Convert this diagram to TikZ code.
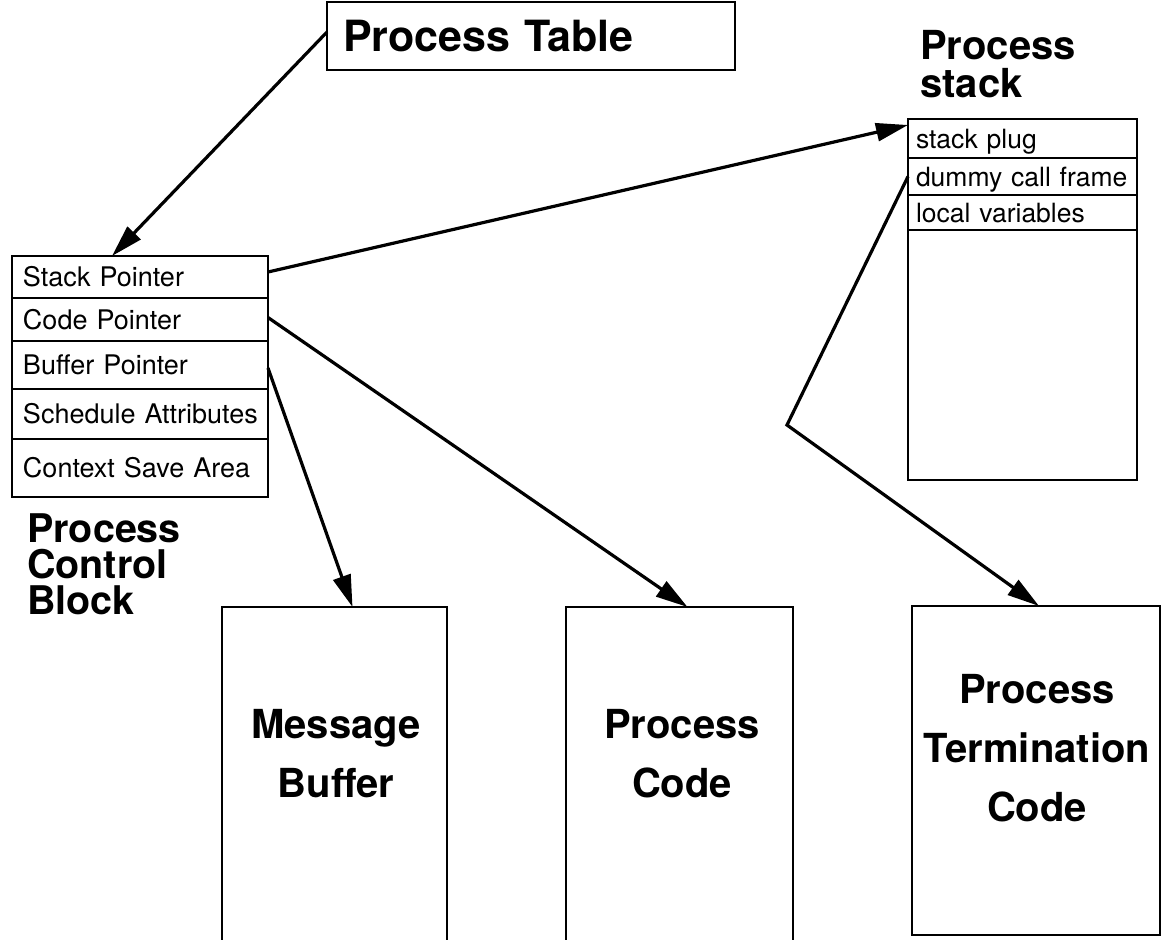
\documentclass[tikz,border=0pt]{standalone}
\usepackage{fontspec}
\setmainfont{TeX Gyre Heros}
\usetikzlibrary{arrows.meta}
\begin{document}
\begin{tikzpicture}[x=1pt,y=-1pt,
  box/.style={draw, line width=2.6pt, rectangle, inner sep=0pt, outer sep=0pt},
  pcbrow/.style={box, anchor=north west, minimum width=256pt, text width=234pt, align=left,
     font=\fontsize{27}{30}\selectfont, text height=19pt, text depth=0pt},
  stkrow/.style={box, anchor=north west, minimum width=229pt, text width=213pt, align=left,
     font=\fontsize{26.5}{30}\selectfont, text height=19pt, text depth=0pt},
  bigtxt/.style={font=\fontsize{40}{59}\selectfont\bfseries, align=center, inner sep=0pt},
  title/.style={font=\fontsize{40}{38}\selectfont\bfseries, align=left, inner sep=0pt, anchor=north west},
  arr/.style={line width=3.2pt, -{Triangle[length=32pt,width=18pt]}}
]
\useasboundingbox[fill=white] (0,0) rectangle (1163,940);

% Process Table
\node[box, anchor=north west, minimum width=408pt, minimum height=68pt, text width=376pt,
      align=left, font=\fontsize{43}{46}\selectfont\bfseries] (pt) at (327,2) {Process Table};

% Process Control Block
\node[pcbrow, minimum height=42pt] (r1) at (12,256) {\mbox{Stack Pointer}};
\node[pcbrow, minimum height=43pt] (r2) at (r1.south west) {\mbox{Code Pointer}};
\node[pcbrow, minimum height=48pt] (r3) at (r2.south west) {\mbox{Buffer Pointer}};
\node[pcbrow, minimum height=50pt] (r4) at (r3.south west) {\mbox{Schedule Attributes}};
\node[pcbrow, minimum height=58pt] (r5) at (r4.south west) {\mbox{Context Save Area}};
\node[title, font=\fontsize{39.5}{36}\selectfont\bfseries] (pcbl) at (27,513) {Process\\Control\\Block};

% Process stack
\node[title] (psl) at (920,30) {Process\\stack};
\node[stkrow, minimum height=39pt] (s1) at (908,119) {\mbox{stack plug}};
\node[stkrow, minimum height=37pt] (s2) at (s1.south west) {\mbox{dummy call frame}};
\node[stkrow, minimum height=35pt] (s3) at (s2.south west) {\mbox{local variables}};
\node[stkrow, minimum height=250pt] (s4) at (s3.south west) {};

% Bottom boxes
\node[inner sep=0pt, outer sep=0pt, anchor=north west, minimum width=225pt, minimum height=333pt] (mb) at (222,607) {};
\draw[line width=2.6pt] (mb.south west) |- (mb.north east) -- (mb.south east);
\node[bigtxt] (mbt) at (336,754) {Message\\Buffer};

\node[inner sep=0pt, outer sep=0pt, anchor=north west, minimum width=227pt, minimum height=333pt] (pc) at (566,607) {};
\draw[line width=2.6pt] (pc.south west) |- (pc.north east) -- (pc.south east);
\node[bigtxt] (pct) at (682,754) {Process\\Code};

\node[box, anchor=north west, minimum width=248pt, minimum height=329pt] (ptc) at (912,606) {};
\node[bigtxt] (ptct) at (1037,748) {Process\\Termination\\Code};

% Connectors
\draw[arr] ([yshift=4pt]pt.west) -- ([xshift=-28pt]r1.north);
\draw[arr] ([yshift=5pt]r1.east) -- ([yshift=-6pt]s1.north west);
\draw[arr] ([yshift=2pt]r2.east) -- ([xshift=8pt]pc.north);
\draw[arr] ([yshift=-3pt]r3.east) -- ([xshift=18pt]mb.north);
\coordinate (bend) at (787,425);
\draw[arr] (s2.west) -- (bend) -- ([xshift=3pt]ptc.north);
\end{tikzpicture}
\end{document}
